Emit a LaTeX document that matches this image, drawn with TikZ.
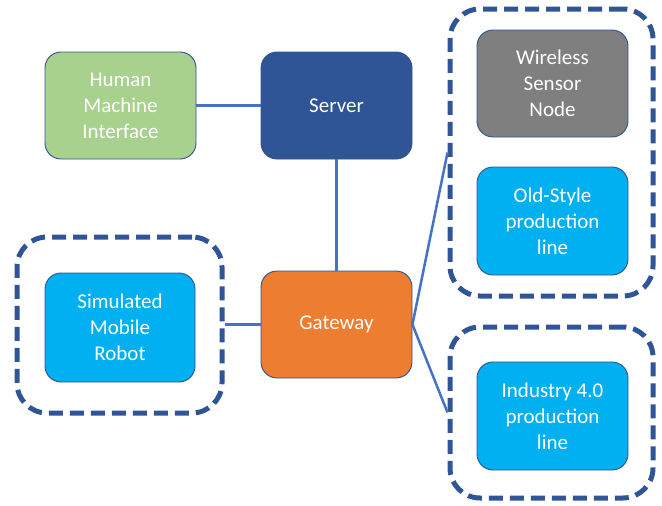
\documentclass[tikz,border=0pt]{standalone}
\usepackage{fontspec}
\setmainfont{Carlito}
\definecolor{hmigreen}{HTML}{A9D18E}
\definecolor{srvblue}{HTML}{2F5597}
\definecolor{gworange}{HTML}{ED7D31}
\definecolor{lblue}{HTML}{00B0F0}
\definecolor{dgray}{HTML}{7F7F7F}
\definecolor{outl}{HTML}{2F528F}
\definecolor{conn}{HTML}{4472C4}
\begin{document}
\begin{tikzpicture}[x=1pt,y=-1pt,
  box/.style={draw=outl, line width=0.9pt, rounded corners=16pt, minimum width=151pt, minimum height=107pt,
    align=center, text=white, inner sep=0pt, font=\fontsize{21}{26}\selectfont},
  group/.style={draw=srvblue, line width=5pt, dash pattern=on 14pt off 7pt, rounded corners=30pt, inner sep=0pt},
  link/.style={draw=conn, line width=3pt}]
\useasboundingbox (0,0) rectangle (662,506);
\node[group, minimum width=205pt, minimum height=176pt] (leftgrp) at (119.5,325) {};
\node[group, minimum width=203pt, minimum height=287pt] (topgrp) at (551.5,152.5) {};
\node[group, minimum width=203pt, minimum height=171pt] (botgrp) at (551.5,412.5) {};
\node[box, fill=hmigreen] (hmi) at (120.5,105.5) {Human\\Machine\\Interface};
\node[box, fill=srvblue] (srv) at (336.5,105.5) {Server};
\node[box, fill=gworange] (gw) at (336.5,324.5) {Gateway};
\node[box, fill=lblue, minimum width=150pt, minimum height=109pt] (robot) at (120,327.5) {Simulated\\Mobile\\Robot};
\node[box, fill=dgray] (wsn) at (552.5,83.5) {Wireless\\Sensor\\Node};
\node[box, fill=lblue, minimum height=108pt] (old) at (552.5,221) {Old-Style\\production\\line};
\node[box, fill=lblue, minimum height=108pt] (ind) at (552.5,416) {Industry 4.0\\production\\line};
\draw[link] (hmi.east) -- (srv.west);
\draw[link] (srv.south) -- (gw.north);
\draw[link] (gw.west) -- (leftgrp.east |- gw.west);
\draw[link, line width=2.5pt] (gw.east) -- (topgrp.west);
\draw[link, line width=2.5pt] (gw.east) -- (botgrp.west);
\end{tikzpicture}
\end{document}
